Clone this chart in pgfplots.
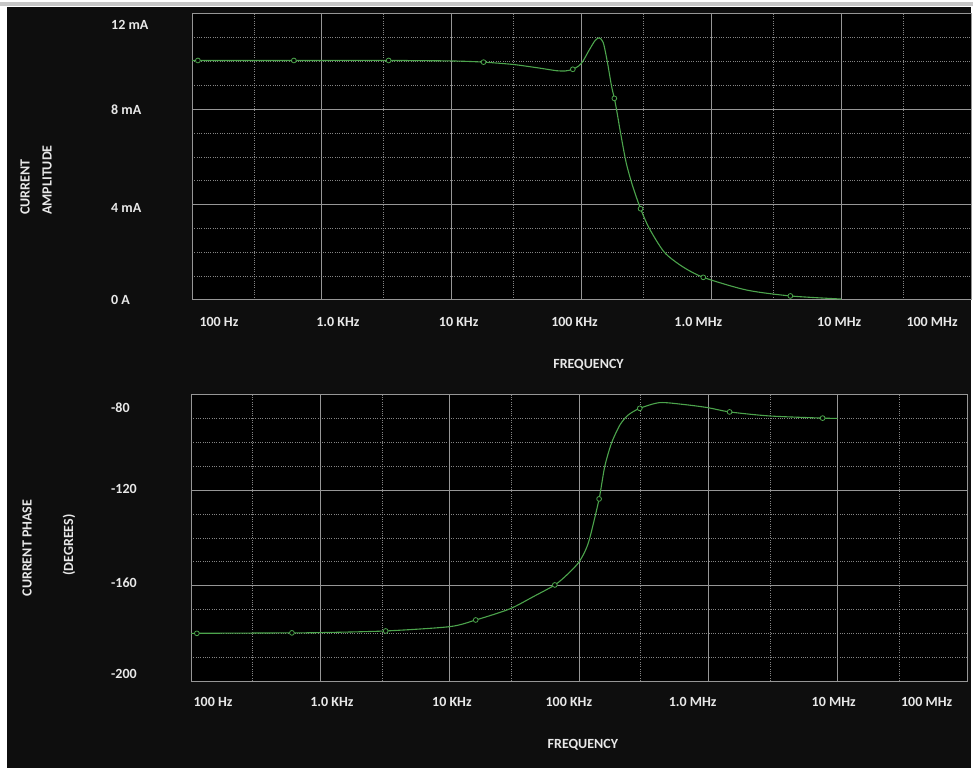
\documentclass[border=0pt]{standalone}
\usepackage{pgfplots}
\pgfplotsset{compat=1.18}
\usepackage{fontspec}
\setmainfont{Carlito}

\definecolor{panel}{HTML}{0E0E0E}
\definecolor{trace}{RGB}{76,164,76}
\definecolor{gridmaj}{HTML}{969696}
\definecolor{gridmin}{HTML}{858585}
\definecolor{labeltext}{HTML}{E8E8E8}

\newcommand{\lblfont}{\bfseries\fontsize{14}{22}\selectfont}

\tikzset{
  trace line/.style={draw=trace, line width=1.1pt, smooth, tension=0.45},
  trace marks/.style={draw=trace, fill=black, line width=0.8pt},
}

\begin{document}
\begin{tikzpicture}
\useasboundingbox (0,0) rectangle (973pt,768pt);
\fill[white] (0,0) rectangle (973pt,768pt);
\fill[black!22] (0,762pt) rectangle (973pt,765.5pt);
\fill[panel] (7pt,0) rectangle (971pt,761pt);

% axis titles
\node[rotate=90, align=left, inner sep=0pt, font=\lblfont, text=labeltext]
  at (36pt,588pt) {CURRENT\\AMPLITUDE};
\node[rotate=90, inner sep=0pt, font=\lblfont, text=labeltext]
  at (27pt,220pt) {CURRENT PHASE};
\node[rotate=90, inner sep=0pt, font=\lblfont, text=labeltext]
  at (69pt,223pt) {(DEGREES)};

% current amplitude
\begin{axis}[
  at={(192pt,468pt)}, anchor=south west,
  scale only axis, width=779pt, height=286pt,
  xmode=log, xmin=100, xmax=1e8,
  ymin=0, ymax=12,
  axis background/.style={fill=black},
  axis line style={draw=gridmaj, line width=1pt},
  major tick length=0pt, minor tick length=0pt,
  xmajorgrids=false, ymajorgrids=false,
  xminorgrids=true, yminorgrids=true,
  minor grid style={draw=gridmin, line width=0.9pt, dash pattern=on 1pt off 1.3pt},
  minor xtick={300,3000,30000,300000,3000000,30000000},
  extra x ticks={100,1000,10000,100000,1000000,10000000,100000000},
  extra x tick labels={,,,,,,},
  extra x tick style={grid=major, major grid style={draw=gridmaj, line width=1pt}},
  extra y tick style={grid=major, major grid style={draw=gridmaj, line width=1pt}},
  ticklabel style={font=\lblfont, text=labeltext, inner sep=0pt},
  xticklabel style={anchor=center, yshift=-22pt},
  yticklabel style={anchor=west, xshift=-81pt},
  xtick={161.3,1328,11320,88370,794300,9652000,50120000},
  xticklabels={100 Hz,1.0 KHz,10 KHz,100 KHz,1.0 MHz,10 MHz,100 MHz},
  ytick={0,3.86,7.97,11.53},
  yticklabels={0 A,4 mA,8 mA,12 mA},
  minor ytick={1,2,3,5,6,7,9,10,11},
  extra y ticks={0,4,8,12},
  extra y tick labels={,,,},
  xlabel={FREQUENCY},
  xlabel style={font=\lblfont, text=labeltext, anchor=center, inner sep=0pt,
    at={(axis description cs:0.509,0)}, yshift=-65pt},
]
\addplot[trace line] coordinates {
  (100,10.05) (609,10.05) (3270,10.05) (10000,10.03) (17600,9.98)
  (30000,9.88) (47500,9.73) (64300,9.62) (75000,9.61) (85700,9.68)
  (95000,9.82) (102000,10.0) (115000,10.5) (127000,10.88) (137000,11.0)
  (147000,10.8) (158000,10.0) (170000,9.0) (179000,8.46) (186000,8.0)
  (200000,7.0) (221000,5.75) (248000,4.77) (285000,3.83)
  (333000,3.0) (435000,2.0) (600000,1.4) (867000,0.95) (1860000,0.42)
  (4060000,0.17) (10000000,0.04)
};
\addplot[only marks, mark=*, mark size=2.4pt, mark options={trace marks}] coordinates {
  (111,10.05) (609,10.05) (3270,10.05) (17600,9.98) (85700,9.68)
  (179000,8.46) (285000,3.83) (867000,0.95) (4060000,0.17)
};
\end{axis}

% current phase
\begin{axis}[
  at={(191pt,87pt)}, anchor=south west,
  scale only axis, width=776pt, height=286pt,
  xmode=log, xmin=100, xmax=1e8,
  ymin=-200, ymax=-80,
  axis background/.style={fill=black},
  axis line style={draw=gridmaj, line width=1pt},
  major tick length=0pt, minor tick length=0pt,
  xmajorgrids=false, ymajorgrids=false,
  xminorgrids=true, yminorgrids=true,
  minor grid style={draw=gridmin, line width=0.9pt, dash pattern=on 1pt off 1.3pt},
  minor xtick={300,3000,30000,300000,3000000,30000000},
  extra x ticks={100,1000,10000,100000,1000000,10000000,100000000},
  extra x tick labels={,,,,,,},
  extra x tick style={grid=major, major grid style={draw=gridmaj, line width=1pt}},
  extra y tick style={grid=major, major grid style={draw=gridmaj, line width=1pt}},
  ticklabel style={font=\lblfont, text=labeltext, inner sep=0pt},
  xticklabel style={anchor=center, yshift=-21pt},
  yticklabel style={anchor=west, xshift=-80pt},
  xtick={147.9,1229,10400,83400,756800,9311000,48750000},
  xticklabels={100 Hz,1.0 KHz,10 KHz,100 KHz,1.0 MHz,10 MHz,100 MHz},
  ytick={-196.9,-158.9,-119.4,-85.3},
  yticklabels={-200,-160,-120,-80},
  minor ytick={-190,-180,-170,-150,-140,-130,-110,-100,-90},
  extra y ticks={-200,-160,-120,-80},
  extra y tick labels={,,,},
  xlabel={FREQUENCY},
  xlabel style={font=\lblfont, text=labeltext, anchor=center, inner sep=0pt,
    at={(axis description cs:0.505,0)}, yshift=-64pt},
]
\addplot[trace line] coordinates {
  (100,-180) (603,-179.8) (1000,-179.7) (3200,-179.0) (10000,-177.2)
  (15900,-174.4) (29000,-169.8) (44000,-164.7) (65000,-159.7)
  (80500,-155.5) (98400,-150.6) (111000,-145.7) (121000,-140.1)
  (143000,-123.6) (158000,-110.1) (178000,-100.3) (207000,-92.6)
  (240000,-88.4) (295000,-85.6) (421000,-83.2) (650000,-84.0)
  (989000,-85.3) (1460000,-87.1) (2980000,-88.8) (7650000,-89.7)
  (10000000,-89.8)
};
\addplot[only marks, mark=*, mark size=2.4pt, mark options={trace marks}] coordinates {
  (111,-180) (603,-179.8) (3200,-179.0) (15900,-174.4) (65000,-159.7)
  (143000,-123.6) (295000,-85.6) (1460000,-87.1) (7650000,-89.7)
};
\end{axis}
\end{tikzpicture}
\end{document}
